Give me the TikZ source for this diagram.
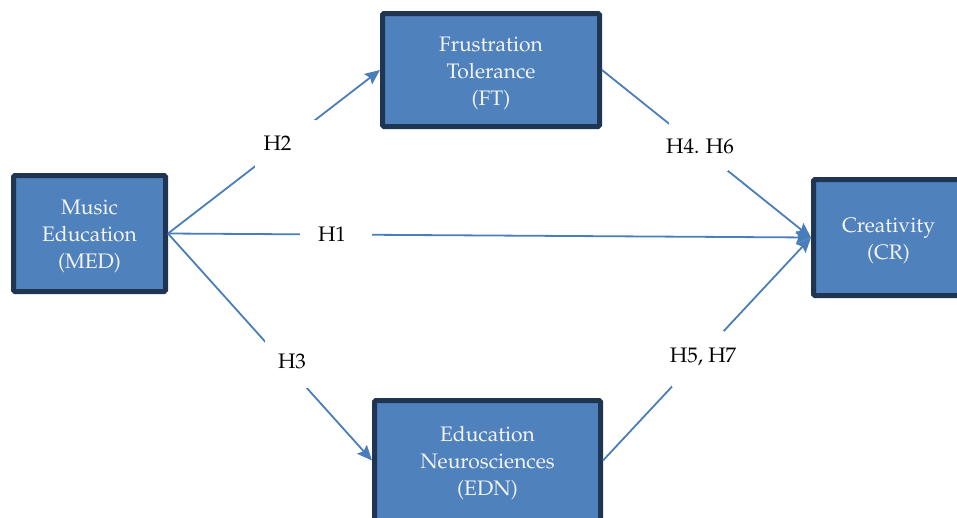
\documentclass[tikz,border=0pt]{standalone}
\usepackage[T1]{fontenc}
\renewcommand{\rmdefault}{ppl}
\usetikzlibrary{arrows.meta}
\definecolor{boxfill}{HTML}{4F81BD}
\definecolor{boxline}{HTML}{1F3552}
\definecolor{arrowblue}{HTML}{4A7EBB}
\definecolor{boxtext}{HTML}{F4F4F4}
\tikzset{
  varbox/.style={draw=boxline, line width=5pt, fill=boxfill, rounded corners=1.5pt,
    inner sep=0pt},
  boxlabel/.style={text=boxtext, align=center, inner sep=0pt, yshift=-3pt,
    font=\fontsize{21}{27}\selectfont},
  link/.style={draw=arrowblue, line width=1.8pt},
  tipped/.style={link, -{Stealth[length=15pt,width=13pt,inset=2.5pt]}},
  hypmask/.style={fill=white, inner sep=0pt},
  hyptext/.style={inner sep=0pt, font=\fontsize{21}{27}\selectfont, text=black},
}
\begin{document}
\begin{tikzpicture}[x=1pt,y=-1pt]
\useasboundingbox (0,0) rectangle (957,517);
\clip (0,0) rectangle (957,517);
\node[varbox, minimum width=217pt, minimum height=113pt,
  label={[boxlabel]center:Frustration\\Tolerance\\(FT)}] (ft) at (491,70) {};
\node[varbox, minimum width=152pt, minimum height=116pt,
  label={[boxlabel]center:Music\\Education\\(MED)}] (med) at (89.5,233.5) {};
\node[varbox, minimum width=150pt, minimum height=116pt,
  label={[boxlabel]center:Creativity\\(CR)}] (cr) at (888.5,237.5) {};
\node[varbox, minimum width=226pt, minimum height=120pt,
  label={[boxlabel]center:Education\\Neurosciences\\(EDN)}] (edn) at (487.5,460.5) {};
\draw[tipped] (med.east) -- (ft.west);
\draw[tipped] (med.east) -- (cr.west);
\draw[tipped] (med.east) -- (edn.west);
\draw[tipped] (ft.east) -- (cr.west);
\draw[tipped] (edn.east) -- (cr.west);
\node[hypmask, minimum width=61pt, minimum height=48pt,
  label={[hyptext, xshift=-8pt]center:H2}] (h2) at (285.5,143.5) {};
\node[hypmask, minimum width=72pt, minimum height=30pt,
  label={[hyptext, xshift=-4pt]center:H1}] (h1) at (336,234) {};
\node[hypmask, minimum width=44pt, minimum height=53pt,
  label={[hyptext, xshift=5pt]center:H3}] (h3) at (287,361.5) {};
\node[hypmask, minimum width=59pt, minimum height=50pt,
  label={[hyptext, xshift=2pt]center:H4. H6}] (h46) at (698,146) {};
\node[hypmask, minimum width=52pt, minimum height=56pt,
  label={[hyptext, xshift=5pt, yshift=2pt]center:H5, H7}] (h57) at (698,359) {};
\end{tikzpicture}
\end{document}
